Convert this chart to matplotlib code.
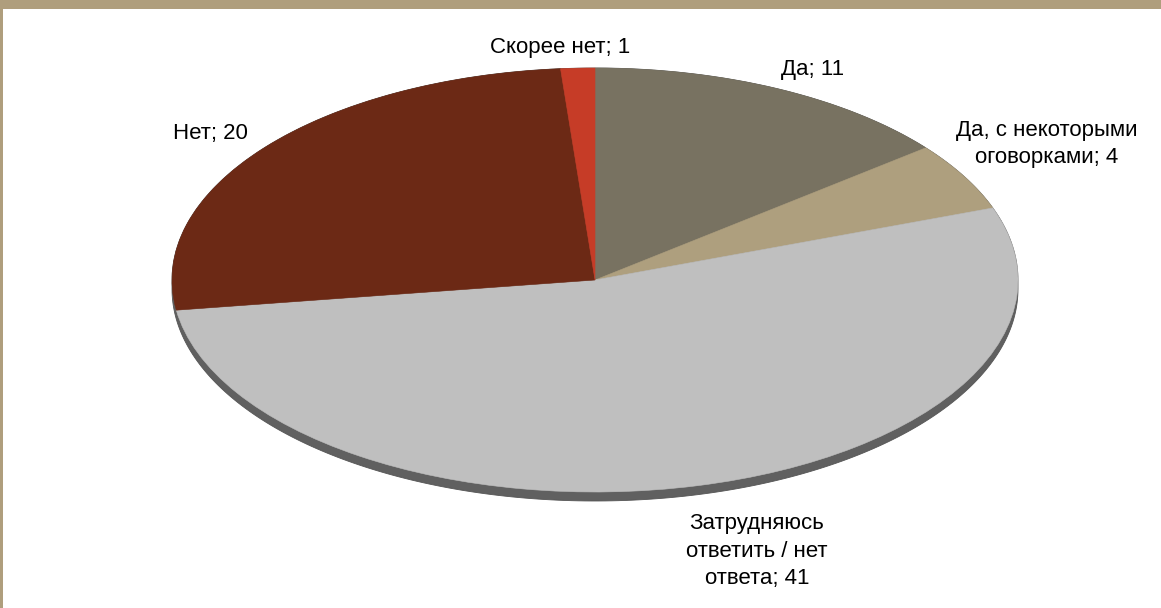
import numpy as np
import matplotlib
matplotlib.use("Agg")
import matplotlib.pyplot as plt
from matplotlib.patches import Polygon, Rectangle

labels = ["Да; 11", "Да, с некоторыми\nоговорками; 4", "Затрудняюсь\nответить / нет\nответа; 41",
          "Нет; 20", "Скорее нет; 1"]
values = [11, 4, 41, 20, 1]
colors = ["#787261", "#AE9F7E", "#BFBFBF", "#6C2915", "#C63C27"]

W, H = 1161, 608
fig = plt.figure(figsize=(W / 100, H / 100), dpi=100)
fig.patch.set_facecolor("white")

# pie geometry (pixels)
cx, cy, a, b = 595, 280, 423, 212
depth = 9

ax = fig.add_axes([0, 0, 1, 1])

# side (extrusion) of the tilted pie
t1 = np.linspace(0, np.pi, 200)
t2 = np.linspace(np.pi, 2 * np.pi, 200)
d = depth / b
pts = np.concatenate([np.c_[np.cos(t1), np.sin(t1)], np.c_[np.cos(t2), np.sin(t2) - d]])
ax.add_patch(Polygon(pts, closed=True, facecolor="#606060", edgecolor="#555555", lw=0.6, zorder=1))

wedges, _ = ax.pie(values, colors=colors, startangle=90, counterclock=False, radius=1,
                   wedgeprops=dict(linewidth=0.4, antialiased=True))
for w, c in zip(wedges, colors):
    w.set_edgecolor(c)
    w.set_zorder(2)
ax.set_xlim((0 - cx) / a, (W - cx) / a)
ax.set_ylim((cy - H) / b, (cy - 0) / b)
ax.set_aspect("auto")
ax.axis("off")

# label positions (pixel x, last-line baseline y)
label_pos = [(813, 75), (1047, 163), (757, 584), (210, 139), (560, 53)]
for lab, (px, py) in zip(labels, label_pos):
    fig.text(px / W, 1 - py / H, lab, ha="center", va="baseline", fontsize=16,
             family=["Liberation Sans", "DejaVu Sans"], color="#000000",
             linespacing=1.4, multialignment="center")

# frame bands
fig.add_artist(Rectangle((0, 1 - 9 / H), 1, 9 / H, transform=fig.transFigure,
                         facecolor="#AF9E7D", edgecolor="none", zorder=10))
fig.add_artist(Rectangle((0, 0), 3 / W, 1, transform=fig.transFigure,
                         facecolor="#AF9E7D", edgecolor="none", zorder=10))

fig.savefig("out.png", dpi=100, facecolor="white")
